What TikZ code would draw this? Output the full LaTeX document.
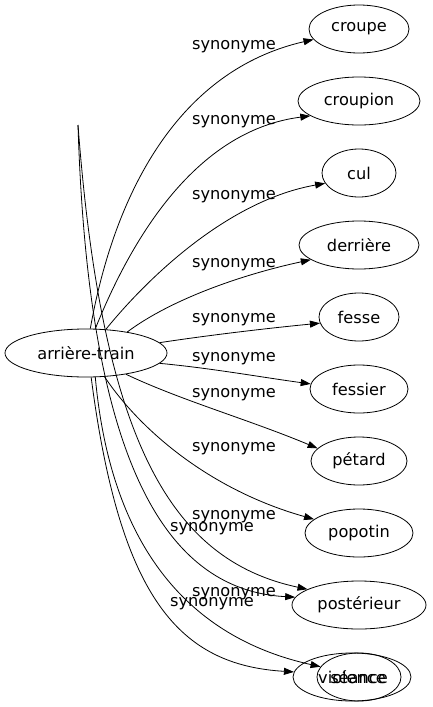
\documentclass[tikz,border=0pt]{standalone}
\usepackage{fontspec}
\setmainfont{DejaVu Sans}
\usetikzlibrary{shapes.geometric,arrows.meta}
\begin{document}
\begin{tikzpicture}[x=1pt, y=-1pt,
  font=\fontsize{16.2}{19}\selectfont,
  nd/.style={draw, ellipse, minimum height=48pt, inner sep=0pt, line width=0.8pt},
  lbl/.style={inner sep=0pt},
  edge/.style={draw, line width=0.8pt, -{Triangle[length=10pt,width=7pt]}}]
\useasboundingbox (0,0) rectangle (432,707);
% nodes
\node[nd, minimum width=162pt] (arriere) at (86,353) {arrière-train};
\node[nd, minimum width=100pt] (croupe) at (359,29) {croupe};
\node[nd, minimum width=122pt] (croupion) at (359,101) {croupion};
\node[nd, minimum width=74pt] (cul) at (359,173) {cul};
\node[nd, minimum width=120pt] (derriere) at (359,245) {derrière};
\node[nd, minimum width=80pt] (fesse) at (359,317) {fesse};
\node[nd, minimum width=98pt] (fessier) at (359,389) {fessier};
\node[nd, minimum width=96pt] (petard) at (359,461) {pétard};
\node[nd, minimum width=108pt] (popotin) at (359,533) {popotin};
\node[nd, minimum width=134pt] (posterieur) at (359,605) {postérieur};
\node[nd, minimum width=118pt] (violence) at (352,677) {violence};
\node[nd, minimum width=84pt] (seance) at (359,677) {séance};
\coordinate (T) at (78,125);
% edges
\draw[edge] (arriere.80) .. controls (115,190) and (180,70) .. (croupe.193);
\draw[edge] (arriere.69) .. controls (135,230) and (200,130) .. (croupion.197);
\draw[edge] (arriere.50) .. controls (150,275) and (230,200) .. (cul.197);
\draw[edge] (arriere.27) .. controls (170,300) and (240,275) .. (derriere.197);
\draw[edge] (arriere.8) .. controls (210,335) and (270,328) .. (fesse.189);
\draw[edge] (arriere.352) .. controls (210,368) and (260,377) .. (fessier.174);
\draw[edge] (arriere.332) .. controls (180,400) and (250,420) .. (petard.163);
\draw[edge] (arriere.308) .. controls (140,430) and (210,490) .. (popotin.163);
\draw[edge] (T) .. controls (102,440) and (170,560) .. (posterieur.163);
\draw[edge] (T) .. controls (88,450) and (160,590) .. (posterieur.173);
\draw[edge] (arriere.291) .. controls (112,560) and (200,640) .. (seance.165);
\draw[edge] (arriere.282) .. controls (120,600) and (180,665) .. (violence.175);
% labels
\node[lbl] (l1) at (234,46.5) {synonyme};
\node[lbl] (l2) at (234,122) {synonyme};
\node[lbl] (l3) at (234,197) {synonyme};
\node[lbl] (l4) at (234,265) {synonyme};
\node[lbl] (l5) at (234,320) {synonyme};
\node[lbl] (l6) at (234,359) {synonyme};
\node[lbl] (l7) at (234,395) {synonyme};
\node[lbl] (l8) at (234,449) {synonyme};
\node[lbl] (l9) at (234,517) {synonyme};
\node[lbl] (l10) at (212,529) {synonyme};
\node[lbl] (l11) at (234,594) {synonyme};
\node[lbl] (l12) at (212,604) {synonyme};
\end{tikzpicture}
\end{document}
